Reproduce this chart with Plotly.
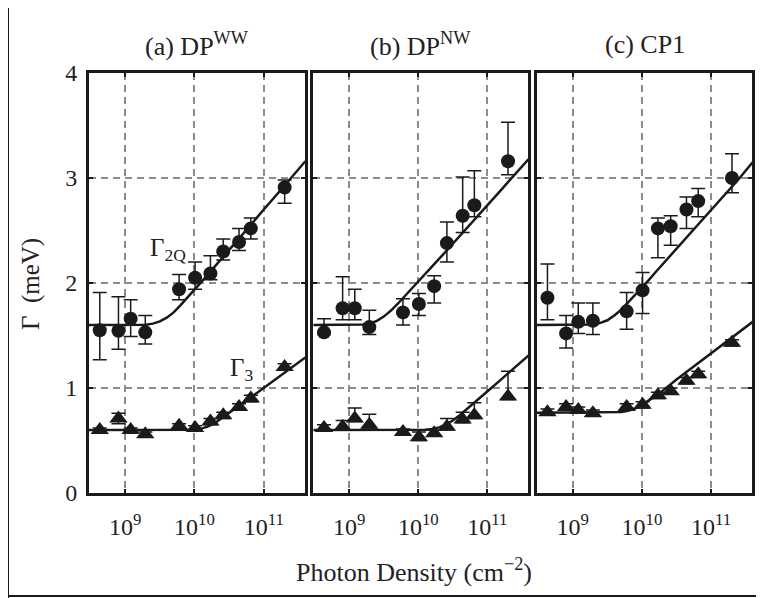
import plotly.graph_objects as go

# ---------------- data ----------------
photon_density = [4.3e8, 8.0e8, 1.2e9, 1.95e9, 6.0e9, 1.02e10, 1.7e10, 2.6e10, 4.4e10, 6.5e10, 2.0e11]

# Gamma_2Q (circles)
g2q_a = [1.55, 1.545, 1.66, 1.53, 1.94, 2.05, 2.09, 2.30, 2.39, 2.52, 2.91]
g2q_a_plus = [0.36, 0.325, 0.18, 0.16, 0.14, 0.15, 0.17, 0.12, 0.13, 0.10, 0.07]
g2q_a_minus = [0.28, 0.175, 0.17, 0.11, 0.10, 0.11, 0.06, 0.08, 0.08, 0.10, 0.15]

g2q_b = [1.53, 1.76, 1.76, 1.58, 1.72, 1.80, 1.97, 2.38, 2.64, 2.74, 3.16]
g2q_b_plus = [0.13, 0.30, 0.18, 0.16, 0.13, 0.10, 0.10, 0.20, 0.37, 0.33, 0.37]
g2q_b_minus = [0.02, 0.11, 0.11, 0.07, 0.12, 0.11, 0.16, 0.18, 0.16, 0.11, 0.13]

g2q_c = [1.86, 1.52, 1.63, 1.64, 1.73, 1.93, 2.52, 2.54, 2.70, 2.78, 3.00]
g2q_c_plus = [0.32, 0.17, 0.18, 0.17, 0.18, 0.17, 0.10, 0.10, 0.12, 0.12, 0.23]
g2q_c_minus = [0.21, 0.14, 0.11, 0.13, 0.17, 0.22, 0.28, 0.18, 0.18, 0.15, 0.14]

# Gamma_3 (triangles)
g3_a = [0.60, 0.71, 0.60, 0.56, 0.64, 0.62, 0.68, 0.74, 0.82, 0.90, 1.20]
g3_a_plus = [0.02, 0.05, 0.02, 0.02, 0.02, 0.02, 0.03, 0.03, 0.03, 0.03, 0.03]
g3_a_minus = [0.02, 0.05, 0.02, 0.02, 0.02, 0.02, 0.03, 0.03, 0.03, 0.03, 0.03]

g3_b = [0.62, 0.63, 0.71, 0.65, 0.58, 0.53, 0.57, 0.63, 0.70, 0.74, 0.92]
g3_b_plus = [0.03, 0.06, 0.10, 0.10, 0.03, 0.05, 0.03, 0.08, 0.07, 0.12, 0.24]
g3_b_minus = [0.03, 0.03, 0.03, 0.03, 0.03, 0.03, 0.03, 0.03, 0.03, 0.03, 0.03]

g3_c = [0.77, 0.82, 0.79, 0.76, 0.82, 0.84, 0.93, 0.97, 1.07, 1.13, 1.43]
g3_c_plus = [0.03, 0.03, 0.03, 0.03, 0.03, 0.03, 0.03, 0.03, 0.03, 0.03, 0.03]
g3_c_minus = [0.03, 0.03, 0.03, 0.03, 0.03, 0.03, 0.03, 0.03, 0.03, 0.03, 0.03]

# fitted curves
fit_x = [3.0e8, 1.0e9, 1.26e9, 1.58e9, 2.0e9, 2.51e9, 3.16e9, 3.98e9, 5.01e9, 6.31e9, 7.94e9,
         1.0e10, 1.26e10, 1.58e10, 2.0e10, 2.51e10, 3.16e10, 3.98e10, 5.01e10, 6.31e10, 7.94e10,
         1.0e11, 1.58e11, 2.51e11, 3.98e11]
fit_g2q_a = [1.60, 1.60, 1.60, 1.60, 1.603, 1.613, 1.635, 1.67, 1.72, 1.79, 1.86,
             1.935, 2.01, 2.085, 2.16, 2.24, 2.315, 2.39, 2.47, 2.545, 2.62,
             2.70, 2.85, 3.01, 3.16]
fit_g2q_b = [1.60, 1.60, 1.60, 1.605, 1.615, 1.64, 1.68, 1.735, 1.80, 1.87, 1.94,
             2.01, 2.085, 2.155, 2.23, 2.30, 2.375, 2.445, 2.52, 2.59, 2.665,
             2.74, 2.885, 3.03, 3.18]
fit_g2q_c = [1.60, 1.60, 1.60, 1.60, 1.605, 1.62, 1.645, 1.69, 1.745, 1.815, 1.885,
             1.96, 2.03, 2.105, 2.18, 2.255, 2.33, 2.40, 2.475, 2.55, 2.625,
             2.70, 2.845, 2.99, 3.15]
fit_g3_a = [0.60, 0.60, 0.60, 0.60, 0.60, 0.60, 0.60, 0.60, 0.60, 0.60, 0.60,
            0.603, 0.613, 0.635, 0.67, 0.715, 0.762, 0.81, 0.857, 0.905, 0.952,
            1.00, 1.095, 1.19, 1.29]
fit_g3_b = [0.60, 0.60, 0.60, 0.60, 0.60, 0.60, 0.60, 0.60, 0.60, 0.60, 0.60,
            0.60, 0.603, 0.61, 0.625, 0.65, 0.69, 0.74, 0.795, 0.85, 0.908,
            0.966, 1.08, 1.195, 1.31]
fit_g3_c = [0.765, 0.765, 0.765, 0.765, 0.765, 0.765, 0.765, 0.767, 0.772, 0.783, 0.805,
            0.84, 0.88, 0.925, 0.975, 1.03, 1.08, 1.13, 1.18, 1.23, 1.28,
            1.33, 1.43, 1.53, 1.63]

panel_titles = ["(a) DP<sup>WW</sup>", "(b) DP<sup>NW</sup>", "(c) CP1"]
x_tickvals = [1e9, 1e10, 1e11]
x_ticktext = ["10<sup>9</sup>", "10<sup>10</sup>", "10<sup>11</sup>"]
y_tickvals = [0, 1, 2, 3, 4]
y_ticktext = ["0", "1", "2", "3", "4"]

# ---------------- figure ----------------
W, H = 764, 598
OFF = 8  # page body margin: screen position = figure position + OFF
FONT = "Liberation Serif"
INK = "#1a1a1a"
TXT = "#222222"

panels = [
    (g2q_a, g2q_a_plus, g2q_a_minus, g3_a, g3_a_plus, g3_a_minus, fit_g2q_a, fit_g3_a),
    (g2q_b, g2q_b_plus, g2q_b_minus, g3_b, g3_b_plus, g3_b_minus, fit_g2q_b, fit_g3_b),
    (g2q_c, g2q_c_plus, g2q_c_minus, g3_c, g3_c_plus, g3_c_minus, fit_g2q_c, fit_g3_c),
]
# target screen positions (pixels)
x_px = [(89, 305), (313.3, 528.3), (536.7, 752.3)]
y_top, y_bot = 73, 493


def fx(px):
    return (px - OFF) / W


def fy(py):
    return 1 - (py - OFF) / H


fig = go.Figure()
layout = dict(
    width=W, height=H, margin=dict(l=0, r=0, t=0, b=0, autoexpand=False),
    paper_bgcolor="white", plot_bgcolor="white", showlegend=False,
    font=dict(family=FONT, size=24, color=TXT),
)

for i, (g2, g2p, g2m, g3, g3p, g3m, f2, f3) in enumerate(panels):
    sfx = "" if i == 0 else str(i + 1)
    xref, yref = "x" + sfx, "y" + sfx
    fig.add_trace(go.Scatter(x=fit_x, y=f2, mode="lines", line=dict(color=INK, width=2.5),
                             xaxis=xref, yaxis=yref, hoverinfo="skip"))
    fig.add_trace(go.Scatter(x=fit_x, y=f3, mode="lines", line=dict(color=INK, width=2.5),
                             xaxis=xref, yaxis=yref, hoverinfo="skip"))
    fig.add_trace(go.Scatter(
        x=photon_density, y=g2, mode="markers",
        marker=dict(symbol="circle", size=14, color=INK),
        error_y=dict(type="data", symmetric=False, array=g2p, arrayminus=g2m,
                     color=INK, thickness=1.5, width=7),
        xaxis=xref, yaxis=yref))
    fig.add_trace(go.Scatter(
        x=photon_density, y=g3, mode="markers",
        marker=dict(symbol="triangle-up", size=16, color=INK),
        error_y=dict(type="data", symmetric=False, array=g3p, arrayminus=g3m,
                     color=INK, thickness=1.5, width=7),
        xaxis=xref, yaxis=yref))

    x0, x1 = x_px[i]
    layout["xaxis" + sfx] = dict(
        type="log", range=[8.478, 11.595], domain=[fx(x0), fx(x1)], anchor=yref,
        tickvals=x_tickvals, ticktext=x_ticktext, tickfont=dict(size=24, color=TXT),
        showgrid=True, gridcolor="#8c8c8c", griddash="7px,5px", gridwidth=1.5,
        showline=True, linecolor=INK, linewidth=3, mirror="ticks",
        ticks="inside", ticklen=4, tickwidth=2, tickcolor=INK,
        ticklabelstandoff=10, zeroline=False, automargin=False,
    )
    layout["yaxis" + sfx] = dict(
        range=[0, 4], domain=[fy(y_bot), fy(y_top)], anchor=xref,
        tickvals=y_tickvals, ticktext=y_ticktext, showticklabels=(i == 0),
        tickfont=dict(size=24, color=TXT),
        showgrid=True, gridcolor="#8c8c8c", griddash="7px,5px", gridwidth=1.5,
        showline=True, linecolor=INK, linewidth=3, mirror="ticks",
        ticks="inside", ticklen=4, tickwidth=2, tickcolor=INK,
        ticklabelstandoff=4, zeroline=False, automargin=False,
    )

fig.update_layout(**layout)

annots = []
for i, t in enumerate(panel_titles):
    cx = (x_px[i][0] + x_px[i][1]) / 2
    annots.append(dict(text=t, x=fx(cx), y=fy(45), xref="paper", yref="paper",
                       xanchor="center", yanchor="middle", showarrow=False,
                       font=dict(size=26, color=TXT)))
annots.append(dict(text="Photon Density (cm<sup>\u22122</sup>)", x=fx(414), y=fy(570),
                   xref="paper", yref="paper", xanchor="center", yanchor="middle",
                   showarrow=False, font=dict(size=26, color=TXT)))
annots.append(dict(text="\u0393  (meV)", x=fx(31), y=fy(284), xref="paper", yref="paper",
                   xanchor="center", yanchor="middle", showarrow=False, textangle=-90,
                   font=dict(size=25, color=TXT)))
annots.append(dict(text="\u0393<sub>2Q</sub>", x=fx(148), y=fy(250), xref="paper", yref="paper",
                   xanchor="left", yanchor="middle", showarrow=False,
                   font=dict(size=25, color=TXT)))
annots.append(dict(text="\u0393<sub>3</sub>", x=fx(228), y=fy(369), xref="paper", yref="paper",
                   xanchor="left", yanchor="middle", showarrow=False,
                   font=dict(size=25, color=TXT)))
fig.update_layout(annotations=annots)

# outer frame (left and bottom edges visible in the reference)
fig.add_shape(type="line", xref="paper", yref="paper", x0=fx(8), x1=fx(8), y0=0, y1=1,
              line=dict(color=INK, width=2))
fig.add_shape(type="line", xref="paper", yref="paper", x0=fx(8), x1=1, y0=fy(596), y1=fy(596),
              line=dict(color=INK, width=2))

fig.write_html("out.html")
